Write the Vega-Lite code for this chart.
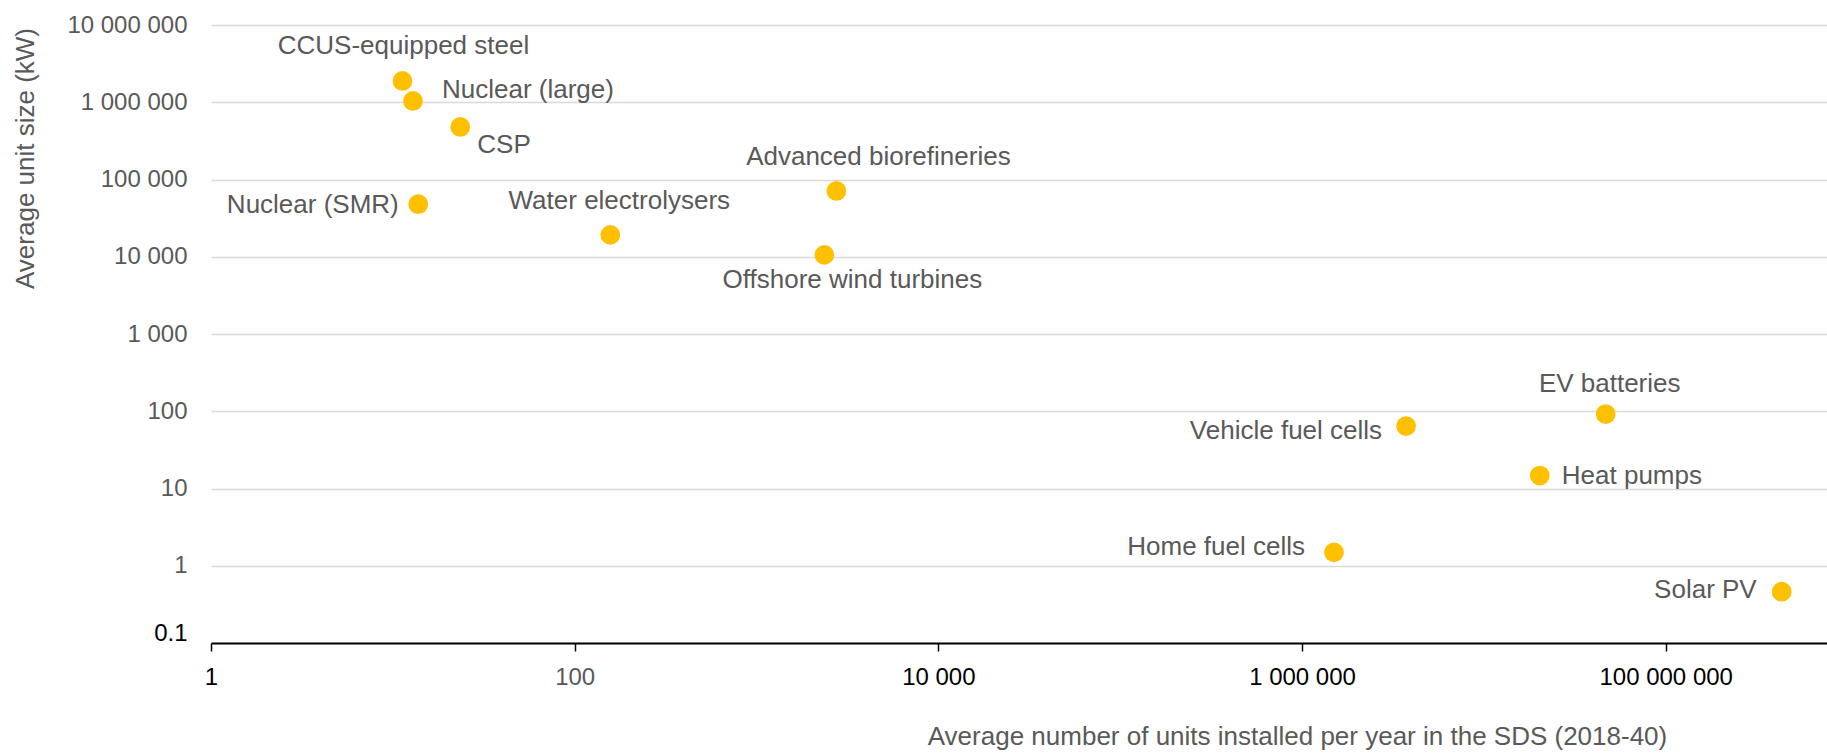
{
  "$schema": "https://vega.github.io/schema/vega-lite/v6.json",
  "autosize": {"type": "none"},
  "padding": {"left": 211, "top": 25, "right": 0, "bottom": 111},
  "width": 1616,
  "height": 618,
  "background": "white",
  "config": {"view": {"stroke": null}, "font": "Liberation Sans"},
  "data": {"values": [
    {"name": "CCUS-equipped steel", "units": 11.3, "size": 1886000},
    {"name": "Nuclear (large)", "units": 12.9, "size": 1040000},
    {"name": "CSP", "units": 23.5, "size": 479000},
    {"name": "Nuclear (SMR)", "units": 13.8, "size": 47900},
    {"name": "Water electrolysers", "units": 157, "size": 19200},
    {"name": "Advanced biorefineries", "units": 2750, "size": 71200},
    {"name": "Offshore wind turbines", "units": 2362, "size": 10580},
    {"name": "Vehicle fuel cells", "units": 3735000, "size": 64.4},
    {"name": "EV batteries", "units": 46770000, "size": 92},
    {"name": "Heat pumps", "units": 20300000, "size": 14.7},
    {"name": "Home fuel cells", "units": 1499000, "size": 1.49},
    {"name": "Solar PV", "units": 434500000, "size": 0.462}
  ]},
  "encoding": {
    "x": {
      "field": "units", "type": "quantitative",
      "scale": {"type": "log", "domain": [1, 771000000], "nice": false},
      "axis": {
        "values": [1, 100, 10000, 1000000, 100000000],
        "labelExpr": "replace(format(datum.value, ','), regexp(',', 'g'), ' ')",
        "grid": false,
        "domain": true, "domainColor": "#000000", "domainWidth": 2,
        "ticks": true, "tickColor": "#000000", "tickSize": 8, "tickWidth": 1.5,
        "labelFont": "Liberation Sans", "labelFontSize": 24,
        "labelColor": {"condition": {"test": "datum.value == 100", "value": "#595959"}, "value": "#000000"},
        "labelPadding": 14, "labelFlush": false, "labelOverlap": false, "labelBound": false,
        "title": "Average number of units installed per year in the SDS (2018-40)",
        "titleFont": "Liberation Sans", "titleFontSize": 26, "titleFontWeight": "normal", "titleColor": "#595959",
        "titleX": 1086, "titleY": 101, "titleAlign": "center", "titleBaseline": "alphabetic"
      }
    },
    "y": {
      "field": "size", "type": "quantitative",
      "scale": {"type": "log", "domain": [0.1, 10000000], "nice": false},
      "axis": {
        "values": [0.1, 1, 10, 100, 1000, 10000, 100000, 1000000, 10000000],
        "labelExpr": "replace(format(datum.value, ','), regexp(',', 'g'), ' ')",
        "grid": true, "gridColor": "#D9D9D9", "gridWidth": 1.5,
        "domain": false, "ticks": false,
        "labelFont": "Liberation Sans", "labelFontSize": 24,
        "labelColor": {"condition": {"test": "datum.value < 0.5", "value": "#000000"}, "value": "#595959"},
        "labelOffset": {"condition": {"test": "datum.value < 0.5", "value": -10}, "value": 0},
        "labelPadding": 24, "labelFlush": false, "labelOverlap": false, "labelBound": false,
        "title": "Average unit size (kW)",
        "titleFont": "Liberation Sans", "titleFontSize": 26, "titleFontWeight": "normal", "titleColor": "#595959",
        "titleX": -178, "titleY": 133, "titleAngle": -90, "titleAlign": "center", "titleBaseline": "alphabetic"
      }
    }
  },
  "layer": [
    {"mark": {"type": "circle", "size": 390, "opacity": 1, "color": "#FFC000"}},
    {"transform": [{"filter": "datum.name === 'CCUS-equipped steel'"}],
     "mark": {"type": "text", "align": "center", "baseline": "middle", "dx": 1, "dy": -34.5, "fontSize": 26, "font": "Liberation Sans", "color": "#595959"},
     "encoding": {"text": {"field": "name"}}},
    {"transform": [{"filter": "datum.name === 'Nuclear (large)'"}],
     "mark": {"type": "text", "align": "left", "baseline": "middle", "dx": 29, "dy": -11, "fontSize": 26, "font": "Liberation Sans", "color": "#595959"},
     "encoding": {"text": {"field": "name"}}},
    {"transform": [{"filter": "datum.name === 'CSP'"}],
     "mark": {"type": "text", "align": "left", "baseline": "middle", "dx": 17, "dy": 18, "fontSize": 26, "font": "Liberation Sans", "color": "#595959"},
     "encoding": {"text": {"field": "name"}}},
    {"transform": [{"filter": "datum.name === 'Nuclear (SMR)'"}],
     "mark": {"type": "text", "align": "right", "baseline": "middle", "dx": -19.5, "dy": 1, "fontSize": 26, "font": "Liberation Sans", "color": "#595959"},
     "encoding": {"text": {"field": "name"}}},
    {"transform": [{"filter": "datum.name === 'Water electrolysers'"}],
     "mark": {"type": "text", "align": "center", "baseline": "middle", "dx": 9, "dy": -33.5, "fontSize": 26, "font": "Liberation Sans", "color": "#595959"},
     "encoding": {"text": {"field": "name"}}},
    {"transform": [{"filter": "datum.name === 'Advanced biorefineries'"}],
     "mark": {"type": "text", "align": "center", "baseline": "middle", "dx": 42, "dy": -33.5, "fontSize": 26, "font": "Liberation Sans", "color": "#595959"},
     "encoding": {"text": {"field": "name"}}},
    {"transform": [{"filter": "datum.name === 'Offshore wind turbines'"}],
     "mark": {"type": "text", "align": "center", "baseline": "middle", "dx": 28, "dy": 25.5, "fontSize": 26, "font": "Liberation Sans", "color": "#595959"},
     "encoding": {"text": {"field": "name"}}},
    {"transform": [{"filter": "datum.name === 'Vehicle fuel cells'"}],
     "mark": {"type": "text", "align": "right", "baseline": "middle", "dx": -24, "dy": 4.7, "fontSize": 26, "font": "Liberation Sans", "color": "#595959"},
     "encoding": {"text": {"field": "name"}}},
    {"transform": [{"filter": "datum.name === 'EV batteries'"}],
     "mark": {"type": "text", "align": "center", "baseline": "middle", "dx": 4, "dy": -30, "fontSize": 26, "font": "Liberation Sans", "color": "#595959"},
     "encoding": {"text": {"field": "name"}}},
    {"transform": [{"filter": "datum.name === 'Heat pumps'"}],
     "mark": {"type": "text", "align": "left", "baseline": "middle", "dx": 22, "dy": 0, "fontSize": 26, "font": "Liberation Sans", "color": "#595959"},
     "encoding": {"text": {"field": "name"}}},
    {"transform": [{"filter": "datum.name === 'Home fuel cells'"}],
     "mark": {"type": "text", "align": "right", "baseline": "middle", "dx": -29, "dy": -5.7, "fontSize": 26, "font": "Liberation Sans", "color": "#595959"},
     "encoding": {"text": {"field": "name"}}},
    {"transform": [{"filter": "datum.name === 'Solar PV'"}],
     "mark": {"type": "text", "align": "right", "baseline": "middle", "dx": -25, "dy": -1.7, "fontSize": 26, "font": "Liberation Sans", "color": "#595959"},
     "encoding": {"text": {"field": "name"}}}
  ]
}
